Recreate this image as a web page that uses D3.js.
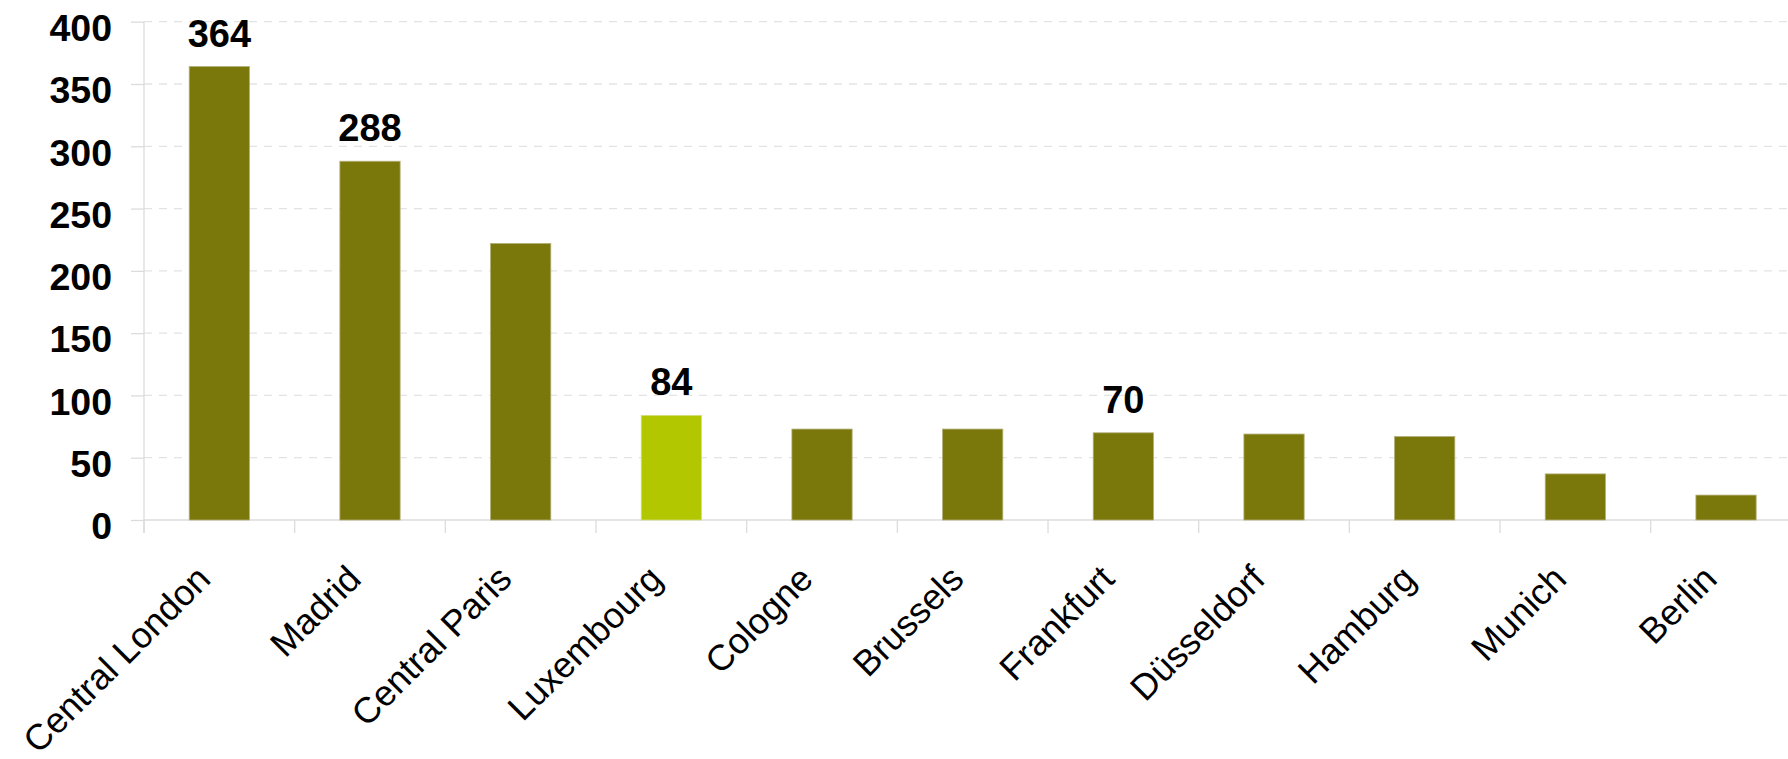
<!DOCTYPE html>
<html>
<head>
<meta charset="utf-8">
<script src="https://cdn.jsdelivr.net/npm/d3@7"></script>
<style>
  html, body { margin: 0; padding: 0; background: #ffffff; }
  svg { display: block; }
  text { font-family: "Liberation Sans", Arial, Helvetica, sans-serif; fill: #000; }
</style>
</head>
<body>
<svg id="chart" width="1788" height="759"></svg>
<script>
// Office rents by city
const categories = ["Central London", "Madrid", "Central Paris", "Luxembourg", "Cologne",
                    "Brussels", "Frankfurt", "Düsseldorf", "Hamburg", "Munich", "Berlin"];
const values = [364, 288, 222, 84, 73, 73, 70, 69, 67, 37, 20];
// Bars whose value is printed above them
const labelled = ["Central London", "Madrid", "Luxembourg", "Frankfurt"];
const highlighted = ["Luxembourg"];
const yTicks = [0, 50, 100, 150, 200, 250, 300, 350, 400];

const svg = d3.select("#chart");

const left = 144, baseY = 520, topY = 21.7, step = 150.67;
const x = d3.scaleBand()
  .domain(categories)
  .range([left, left + step * categories.length])
  .paddingInner(0.6)
  .paddingOuter(0.3);
const y = d3.scaleLinear().domain([0, 400]).range([baseY, topY]);

const colorMain = "#7b780b";
const colorHighlight = "#b2c700";

// Dashed horizontal gridlines
svg.append("g")
  .selectAll("line")
  .data(yTicks.filter(t => t > 0))
  .join("line")
  .attr("x1", left).attr("x2", 1788)
  .attr("y1", d => y(d)).attr("y2", d => y(d))
  .attr("stroke", "#e3e3e3")
  .attr("stroke-width", 1.3)
  .attr("stroke-dasharray", "8,7");

// Y axis: short ticks left of the axis line, bold labels
const yAxis = svg.append("g")
  .attr("transform", `translate(${left},0)`)
  .call(d3.axisLeft(y).tickValues(yTicks).tickSize(13).tickPadding(19));
yAxis.select(".domain")
  .attr("d", `M0,${topY}V${baseY + 13}`)
  .attr("stroke", "#dcdcdc").attr("stroke-width", 1.3);
yAxis.selectAll(".tick line").attr("stroke", "#dcdcdc").attr("stroke-width", 1.3);
yAxis.selectAll(".tick text")
  .attr("font-size", 37.5).attr("font-weight", "bold")
  .attr("dy", "0.5em")
  .style("font-family", "'Liberation Sans', Arial, sans-serif");

// X axis baseline and ticks at category boundaries
const boundaries = d3.range(categories.length + 1).map(i => left + i * x.step());
svg.append("line")
  .attr("x1", left).attr("x2", 1788)
  .attr("y1", baseY).attr("y2", baseY)
  .attr("stroke", "#dcdcdc").attr("stroke-width", 1.3);
svg.append("g")
  .selectAll("line")
  .data(boundaries)
  .join("line")
  .attr("x1", d => d).attr("x2", d => d)
  .attr("y1", baseY).attr("y2", baseY + 13)
  .attr("stroke", "#dcdcdc").attr("stroke-width", 1.3);

// Bars
svg.append("g")
  .selectAll("rect")
  .data(categories)
  .join("rect")
  .attr("x", d => x(d))
  .attr("width", x.bandwidth())
  .attr("y", (d, i) => y(values[i]))
  .attr("height", (d, i) => baseY - y(values[i]))
  .attr("fill", d => highlighted.includes(d) ? colorHighlight : colorMain)
  .attr("stroke", d => highlighted.includes(d) ? "#d4df80" : "#b4b07a")
  .attr("stroke-width", 0.8);

// Value labels
svg.append("g")
  .selectAll("text")
  .data(categories.map((c, i) => ({ c, v: values[i] })).filter(d => labelled.includes(d.c)))
  .join("text")
  .attr("x", d => x(d.c) + x.bandwidth() / 2)
  .attr("y", d => y(d.v) - 20)
  .attr("text-anchor", "middle")
  .attr("font-size", 38)
  .attr("font-weight", "bold")
  .text(d => d.v);

// Rotated category labels
svg.append("g")
  .selectAll("text")
  .data(categories)
  .join("text")
  .attr("transform", d => `translate(${x(d) + x.bandwidth() / 2 - 7},581) rotate(-45)`)
  .attr("text-anchor", "end")
  .attr("font-size", 36)
  .text(d => d);
</script>
</body>
</html>
